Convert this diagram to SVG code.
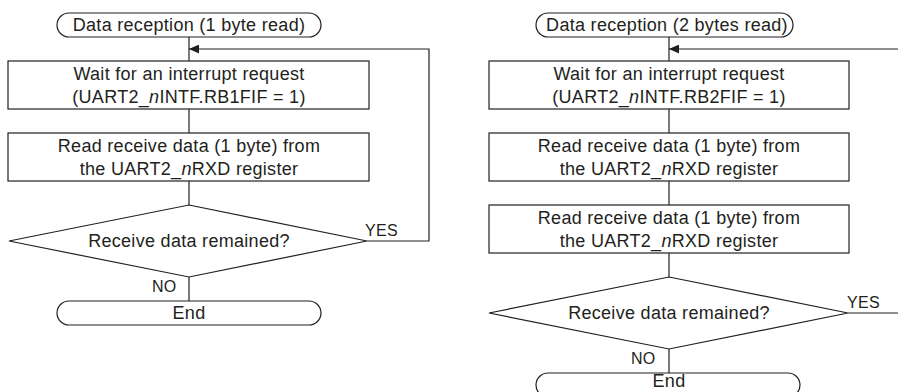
<svg xmlns="http://www.w3.org/2000/svg" width="898" height="392" viewBox="0 0 898 392">
<style>
  .shape { fill: #ffffff; stroke: #231f20; stroke-width: 1.2; }
  .line { fill: none; stroke: #231f20; stroke-width: 1.2; }
  text { font-family: "Liberation Sans", Arial, sans-serif; font-size: 18px; fill: #231f20; letter-spacing: 0.3px; }
  .c { text-anchor: middle; }
  .lbl { font-size: 16px; }
  .i { font-style: italic; }
</style>
<defs>
  <marker id="arr" markerWidth="11" markerHeight="9" refX="10" refY="4.5" orient="auto" markerUnits="userSpaceOnUse">
    <path d="M0,0 L10,4.5 L0,9 Z" fill="#231f20"/>
  </marker>
</defs>

<g id="connectors">
  <path class="line" d="M189,37 V61"/>
  <path class="line" d="M189,109 V133"/>
  <path class="line" d="M189,181 V205"/>
  <path class="line" d="M189,277 V301"/>
  <path class="line" d="M367,241 H429 V49 H189" marker-end="url(#arr)"/>
  <path class="line" d="M669,37 V61"/>
  <path class="line" d="M669,109 V133"/>
  <path class="line" d="M669,181 V205"/>
  <path class="line" d="M669,253 V277"/>
  <path class="line" d="M669,349 V373"/>
  <path class="line" d="M898,49 H669" marker-end="url(#arr)"/>
  <path class="line" d="M848,313 H898"/>
  <text class="lbl" x="365" y="236">YES</text>
  <text class="lbl" x="152" y="292">NO</text>
  <text class="lbl" x="847" y="308">YES</text>
  <text class="lbl" x="631" y="364">NO</text>
</g>

<g id="l-start">
  <rect class="shape" x="57" y="13" width="264" height="24" rx="12"/>
  <text class="c" x="189" y="31">Data reception (1 byte read)</text>
</g>
<g id="l-wait">
  <rect class="shape" x="8" y="61" width="361" height="48"/>
  <text class="c" x="189" y="80">Wait for an interrupt request</text>
  <text class="c" x="189" y="103">(UART2_<tspan class="i">n</tspan>INTF.RB1FIF = 1)</text>
</g>
<g id="l-read">
  <rect class="shape" x="8" y="133" width="361" height="48"/>
  <text class="c" x="189" y="152">Read receive data (1 byte) from</text>
  <text class="c" x="189" y="175">the UART2_<tspan class="i">n</tspan>RXD register</text>
</g>
<g id="l-decision">
  <polygon class="shape" points="189,205 367,241 189,277 9,241"/>
  <text class="c" x="189" y="247">Receive data remained?</text>
</g>
<g id="l-end">
  <rect class="shape" x="57" y="301" width="264" height="24" rx="12"/>
  <text class="c" x="189" y="319">End</text>
</g>

<g id="r-start">
  <rect class="shape" x="536" y="13" width="257" height="24" rx="12"/>
  <text class="c" x="667" y="31">Data reception (2 bytes read)</text>
</g>
<g id="r-wait">
  <rect class="shape" x="489" y="61" width="360" height="48"/>
  <text class="c" x="669" y="80">Wait for an interrupt request</text>
  <text class="c" x="669" y="103">(UART2_<tspan class="i">n</tspan>INTF.RB2FIF = 1)</text>
</g>
<g id="r-read1">
  <rect class="shape" x="489" y="133" width="360" height="48"/>
  <text class="c" x="669" y="152">Read receive data (1 byte) from</text>
  <text class="c" x="669" y="175">the UART2_<tspan class="i">n</tspan>RXD register</text>
</g>
<g id="r-read2">
  <rect class="shape" x="489" y="205" width="360" height="48"/>
  <text class="c" x="669" y="224">Read receive data (1 byte) from</text>
  <text class="c" x="669" y="247">the UART2_<tspan class="i">n</tspan>RXD register</text>
</g>
<g id="r-decision">
  <polygon class="shape" points="669,277 848,313 669,349 489,313"/>
  <text class="c" x="669" y="319">Receive data remained?</text>
</g>
<g id="r-end">
  <rect class="shape" x="536" y="373" width="264" height="24" rx="12"/>
  <text class="c" x="669" y="387">End</text>
</g>
</svg>
